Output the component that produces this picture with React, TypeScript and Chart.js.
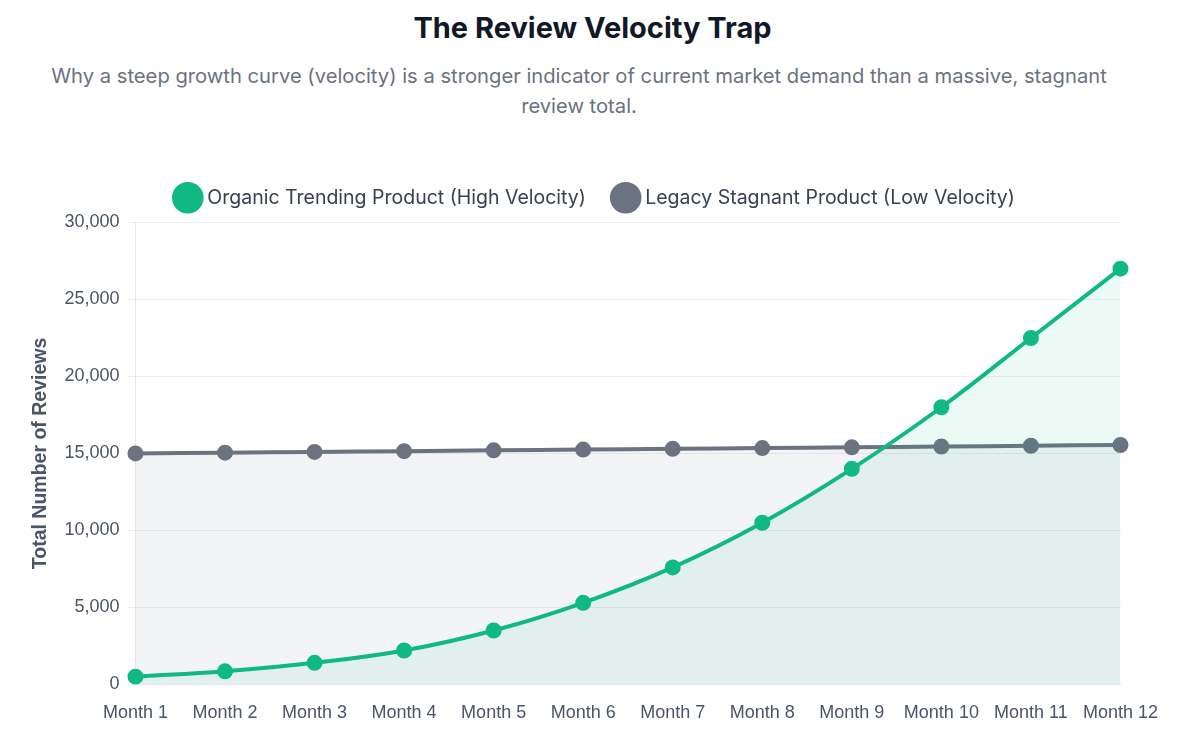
import React, { useEffect, useRef } from "react";
import { Chart, registerables } from "chart.js";

Chart.register(...registerables);

const months = ["Month 1", "Month 2", "Month 3", "Month 4", "Month 5", "Month 6", "Month 7", "Month 8", "Month 9", "Month 10", "Month 11", "Month 12"];
const organicReviews = [500, 850, 1400, 2200, 3500, 5300, 7600, 10500, 14000, 18000, 22500, 27000];
const legacyReviews = [15000, 15050, 15100, 15150, 15200, 15250, 15300, 15350, 15400, 15450, 15500, 15550];
const organicLabel = "Organic Trending Product (High Velocity)";
const legacyLabel = "Legacy Stagnant Product (Low Velocity)";
const titleText = "The Review Velocity Trap";
const subtitleText = "Why a steep growth curve (velocity) is a stronger indicator of current market demand than a massive, stagnant review total.";
const yAxisTitle = "Total Number of Reviews";

const legendMargin = {
  id: "legendMargin",
  beforeInit(chart: any) {
    const fit = chart.legend.fit;
    chart.legend.fit = function () {
      fit.bind(chart.legend)();
      this.height += 5;
    };
  },
};

export default function App() {
  const canvasRef = useRef<HTMLCanvasElement | null>(null);

  useEffect(() => {
    if (!canvasRef.current) return;
    const chart = new Chart(canvasRef.current, {
      type: "line",
      data: {
        labels: months,
        datasets: [
          {
            label: organicLabel,
            data: organicReviews,
            borderColor: "#10b981",
            backgroundColor: "rgba(16,185,129,0.08)",
            pointBackgroundColor: "#10b981",
            pointBorderColor: "#10b981",
            borderWidth: 4,
            pointRadius: 6,
            tension: 0.4,
            fill: "origin",
          },
          {
            label: legacyLabel,
            data: legacyReviews,
            borderColor: "#6b7280",
            backgroundColor: "rgba(107,114,128,0.08)",
            pointBackgroundColor: "#6b7280",
            pointBorderColor: "#6b7280",
            borderWidth: 4,
            pointRadius: 6,
            tension: 0.4,
            fill: "origin",
          },
        ],
      },
      options: {
        animation: false,
        responsive: true,
        maintainAspectRatio: false,
        plugins: {
          legend: {
            position: "top",
            labels: {
              usePointStyle: true,
              pointStyle: "circle",
              color: "#374151",
              font: { size: 19.5, family: "Inter, sans-serif" },
              padding: 30,
            },
          },
          tooltip: { enabled: false },
        },
        scales: {
          x: {
            grid: { display: false },
            border: { color: "#e5e7eb" },
            ticks: { color: "#4b5563", font: { size: 18 }, maxRotation: 0, padding: 10 },
          },
          y: {
            min: 0,
            max: 30000,
            ticks: {
              stepSize: 5000,
              color: "#4b5563",
              font: { size: 18 },
              padding: 8,
              callback: (v: any) => Number(v).toLocaleString("en-US"),
            },
            grid: { color: "#eeeeee" },
            border: { color: "#e5e7eb" },
            title: {
              display: true,
              text: yAxisTitle,
              color: "#4b5563",
              font: { size: 19.5, weight: "bold" },
            },
          },
        },
      },
      plugins: [legendMargin],
    });
    return () => chart.destroy();
  }, []);

  return (
    <div style={{ position: "relative", width: 1169, height: 723, fontFamily: "Inter, sans-serif", background: "#fff" }}>
      <div
        style={{
          position: "absolute",
          top: 0,
          left: 0,
          width: 1169,
          textAlign: "center",
          fontSize: 29,
          fontWeight: 700,
          color: "#111827",
          lineHeight: "40px",
        }}
      >
        {titleText}
      </div>
      <div
        style={{
          position: "absolute",
          top: 53,
          left: 26,
          width: 1090,
          textAlign: "center",
          fontSize: 20.2,
          color: "#6b7280",
          lineHeight: "29.5px",
        }}
      >
        {subtitleText}
      </div>
      <div style={{ position: "absolute", top: 150, left: 17, width: 1143, height: 576 }}>
        <canvas ref={canvasRef} />
      </div>
    </div>
  );
}
